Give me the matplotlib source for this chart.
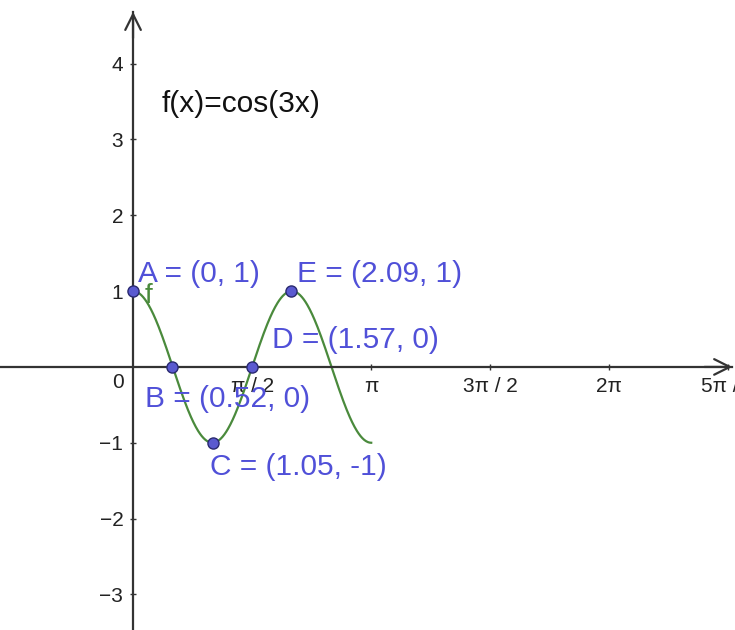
import numpy as np
import matplotlib.pyplot as plt

plt.rcParams['font.family'] = ['Liberation Sans', 'DejaVu Sans']

# data
func_label = "f(x)=cos(3x)"
point_names = ["A", "B", "C", "D", "E"]
point_x = [0.0, 0.52, 1.05, 1.57, 2.09]
point_y = [1, 0, -1, 0, 1]
label_x = [0.07, 0.16, 1.02, 1.83, 2.16]
label_y = [1.12, -0.53, -1.42, 0.25, 1.12]
xtick_vals = [np.pi / 2, np.pi, 3 * np.pi / 2, 2 * np.pi, 5 * np.pi / 2]
xtick_labels = ["π / 2", "π", "3π / 2", "2π", "5π / 2"]
ytick_vals = [-3, -2, -1, 1, 2, 3, 4]

xs = np.linspace(0, np.pi, 400)
ys = np.cos(3 * xs)

fig = plt.figure(figsize=(7.35, 6.3), dpi=100)
ax = fig.add_axes([0, 0, 1, 1])
ax.set_xlim(-1.755, 7.94)
ax.set_ylim(-3.47, 4.84)

axis_col = '#333333'
for side in ['top', 'right']:
    ax.spines[side].set_visible(False)
ax.spines['left'].set_position(('data', 0))
ax.spines['bottom'].set_position(('data', 0))
for side in ['left', 'bottom']:
    ax.spines[side].set_color(axis_col)
    ax.spines[side].set_linewidth(1.6)
ax.spines['left'].set_bounds(-3.47, 4.68)
ax.spines['bottom'].set_bounds(-1.755, 7.9)

# arrow heads
ax.annotate('', xy=(0, 4.72), xytext=(0, 4.3),
            arrowprops=dict(arrowstyle='->', color=axis_col, lw=1.6, mutation_scale=28))
ax.annotate('', xy=(7.94, 0), xytext=(7.5, 0),
            arrowprops=dict(arrowstyle='->', color=axis_col, lw=1.6, mutation_scale=28))

ax.set_xticks(xtick_vals)
ax.set_xticklabels(xtick_labels)
ax.set_yticks(ytick_vals)
ax.tick_params(axis='both', direction='inout', length=4, width=1, color=axis_col,
               labelsize=15, labelcolor='#222222', pad=5)
ax.text(-0.2, -0.2, "0", fontsize=15, color='#222222', ha='center', va='center')

# function
ax.plot(xs, ys, color='#4a8a3c', linewidth=1.6)
ax.text(0.15, 0.84, "f", fontsize=20, color='#4a8a3c')
ax.text(0.38, 3.36, func_label, fontsize=21.5, color='#111111')

# points
pt_col = '#5050d8'
ax.plot(point_x, point_y, 'o', markersize=8, markerfacecolor='#5a5ad0',
        markeredgecolor='#2a2a70', markeredgewidth=1, zorder=5)
for name, px, py, lx, ly in zip(point_names, point_x, point_y, label_x, label_y):
    ax.text(lx, ly, f"{name} = ({px:g}, {py})", fontsize=21.5, color=pt_col,
            ha='left', va='baseline', zorder=6)

fig.savefig('out.png', dpi=100)
